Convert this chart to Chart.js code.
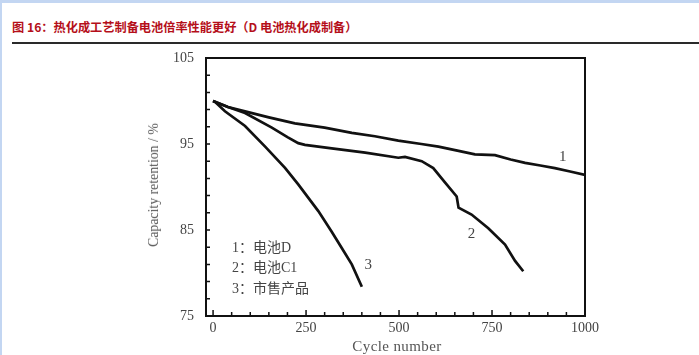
<!DOCTYPE html>
<html>
<head>
<meta charset="utf-8">
<script src="https://cdn.jsdelivr.net/npm/chart.js@4.4.0/dist/chart.umd.min.js"></script>
<style>
    html, body { margin: 0; padding: 0; background: #fff; }
    #page { position: relative; width: 699px; height: 355px; overflow: hidden; }
    #frameTop { position: absolute; left: 0; top: 0; width: 699px; height: 3px; background: #c3d6f2; }
    #frameLeft { position: absolute; left: 0; top: 0; width: 2px; height: 355px; background: #c3d6f2; }
    #titulo {
        position: absolute; left: 12px; top: 18px;
        font-family: "Noto Sans CJK SC", sans-serif; font-weight: bold;
        font-size: 12.2px; color: #b50f1a; white-space: nowrap; line-height: 18px;
    }
    #linha { position: absolute; left: 12px; top: 42px; width: 687px; height: 2px; background: #2a2a2a; }
    #grafico { position: absolute; left: 0; top: 0; }
    .eixo { position: absolute; font-family: "Liberation Serif", serif; color: #555; white-space: nowrap; }
    #tituloY { left: 154px; top: 185px; font-size: 13.8px; transform: translate(-50%, -50%) rotate(-90deg); }
    #tituloX { left: 397px; top: 346px; font-size: 15px; letter-spacing: 0.4px; transform: translate(-50%, -50%); }
    .legenda {
        position: absolute; left: 232px; font-family: "Liberation Serif", "Noto Sans CJK SC", serif;
        font-size: 14px; color: #444; white-space: nowrap; transform: translateY(-50%);
    }
    .rotulo { position: absolute; font-family: "Liberation Serif", serif; font-size: 15px; color: #444; transform: translate(-50%, -50%); }
</style>
</head>
<body>
<div id="page">
    <div id="frameTop"></div>
    <div id="frameLeft"></div>
    <div id="titulo">图 16：热化成工艺制备电池倍率性能更好（D 电池热化成制备）</div>
    <div id="linha"></div>
    <canvas id="grafico" width="699" height="355"></canvas>
    <div class="eixo" id="tituloY">Capacity retention / %</div>
    <div class="eixo" id="tituloX">Cycle number</div>
    <div class="legenda" style="top:246px">1：电池D</div>
    <div class="legenda" style="top:266px">2：电池C1</div>
    <div class="legenda" style="top:287px">3：市售产品</div>
    <div class="rotulo" id="rotulo1">1</div>
    <div class="rotulo" id="rotulo2">2</div>
    <div class="rotulo" id="rotulo3">3</div>
</div>
<script>
// dados
const ciclos1 = [0, 5, 40, 86, 150, 220, 300, 373, 435, 498, 560, 606, 660, 704, 758, 800, 839, 880, 919, 960, 1000];
const capacidade1 = [100.0, 99.9, 99.3, 98.8, 98.1, 97.4, 96.9, 96.3, 95.9, 95.4, 95.0, 94.7, 94.2, 93.8, 93.7, 93.2, 92.8, 92.5, 92.2, 91.8, 91.4];

const ciclos2 = [0, 5, 40, 86, 158, 200, 229, 247, 319, 409, 498, 516, 561, 592, 624, 655, 660, 695, 740, 785, 812, 834];
const capacidade2 = [100.0, 99.9, 99.3, 98.6, 96.9, 95.8, 95.1, 94.9, 94.5, 94.0, 93.4, 93.5, 93.0, 92.2, 90.5, 88.9, 87.6, 86.8, 85.2, 83.3, 81.4, 80.2];

const ciclos3 = [0, 5, 32, 86, 140, 194, 229, 283, 319, 346, 373, 400];
const capacidade3 = [100.0, 99.9, 98.8, 97.1, 94.7, 92.2, 90.3, 87.2, 84.8, 82.9, 81.0, 78.4];

const ticksX = [0, 250, 500, 750, 1000];
const ticksY = [75, 85, 95, 105];
const rotulos = [
    { id: 'rotulo1', x: 940, y: 93.6 },
    { id: 'rotulo2', x: 695, y: 84.6 },
    { id: 'rotulo3', x: 417, y: 81.1 }
];

function pontos(xs, ys) {
    return xs.map((x, i) => ({ x: x, y: ys[i] }));
}

// moldura e marcas internas dos eixos
const molduraPlugin = {
    id: 'moldura',
    afterDraw(chart) {
        const ctx = chart.ctx;
        const a = chart.chartArea;
        const sx = chart.scales.x;
        const sy = chart.scales.y;
        ctx.save();
        ctx.strokeStyle = '#111';
        ctx.lineWidth = 2;
        ctx.strokeRect(a.left, a.top, a.right - a.left, a.bottom - a.top);
        ctx.lineWidth = 1.5;
        ctx.beginPath();
        for (let v = 0; v < 1000; v += 50) {
            const px = sx.getPixelForValue(v);
            const len = v % 250 === 0 ? 6 : 4;
            ctx.moveTo(px, a.bottom);
            ctx.lineTo(px, a.bottom - len);
        }
        for (let v = 77; v < 105; v += 2) {
            const py = sy.getPixelForValue(v);
            ctx.moveTo(a.left, py);
            ctx.lineTo(a.left + 4, py);
        }
        ctx.stroke();
        ctx.restore();

        rotulos.forEach(r => {
            const el = document.getElementById(r.id);
            el.style.left = sx.getPixelForValue(r.x) + 'px';
            el.style.top = sy.getPixelForValue(r.y) + 'px';
        });
    }
};

const estiloLinha = {
    borderColor: '#111',
    borderWidth: 2.7,
    pointRadius: 0,
    fill: false,
    tension: 0
};

new Chart(document.getElementById('grafico').getContext('2d'), {
    type: 'line',
    data: {
        datasets: [
            Object.assign({ label: '1', data: pontos(ciclos1, capacidade1) }, estiloLinha),
            Object.assign({ label: '2', data: pontos(ciclos2, capacidade2) }, estiloLinha),
            Object.assign({ label: '3', data: pontos(ciclos3, capacidade3) }, estiloLinha)
        ]
    },
    options: {
        responsive: false,
        animation: false,
        layout: { padding: { left: 0, top: 58, right: 114, bottom: 0 } },
        plugins: { legend: { display: false }, tooltip: { enabled: false } },
        scales: {
            x: {
                type: 'linear',
                min: -19,
                max: 1000,
                grid: { display: false, drawTicks: false },
                border: { display: false },
                afterBuildTicks: s => { s.ticks = ticksX.map(v => ({ value: v })); },
                afterFit: s => { s.height = 39; },
                ticks: {
                    padding: 4,
                    maxRotation: 0,
                    color: '#444',
                    font: { family: 'Liberation Serif', size: 14 },
                    callback: v => String(v)
                }
            },
            y: {
                min: 75,
                max: 105,
                grid: { display: false, drawTicks: false },
                border: { display: false },
                afterBuildTicks: s => { s.ticks = ticksY.map(v => ({ value: v })); },
                afterFit: s => { s.width = 206; },
                ticks: {
                    padding: 12,
                    color: '#444',
                    font: { family: 'Liberation Serif', size: 14 },
                    callback: v => String(v)
                }
            }
        }
    },
    plugins: [molduraPlugin]
});
</script>
</body>
</html>
